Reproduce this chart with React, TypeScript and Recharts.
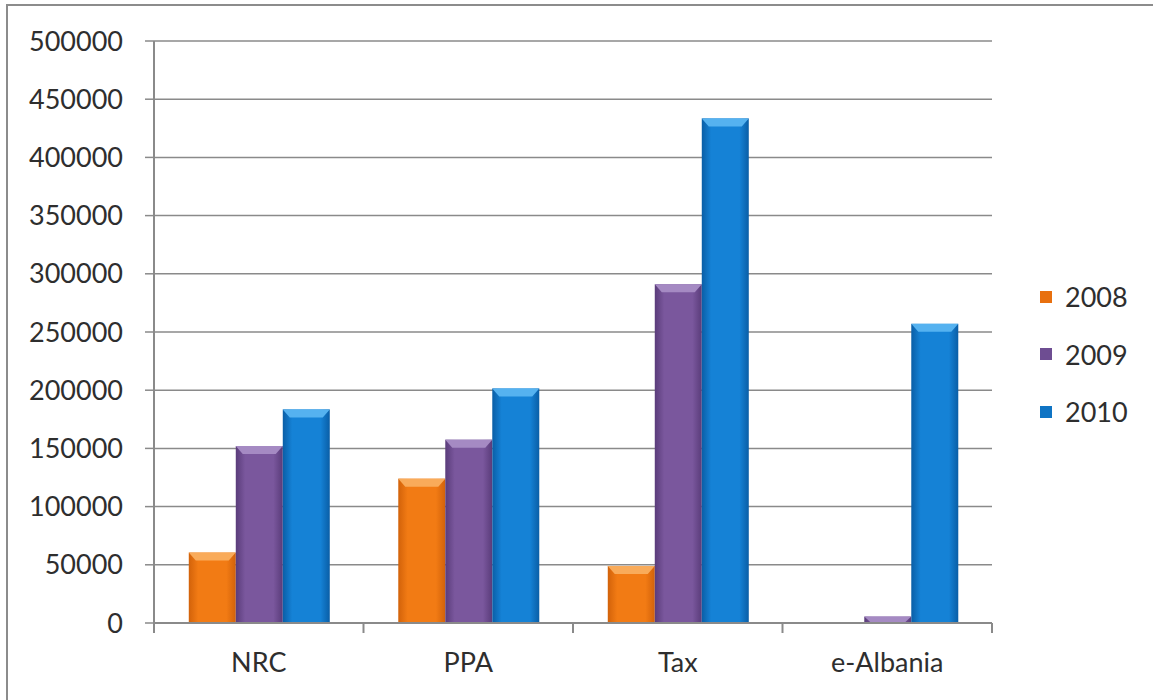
import { Bar, BarChart, CartesianGrid, Legend, XAxis, YAxis } from "recharts";

const categories = ["NRC", "PPA", "Tax", "e-Albania"];
const years = ["2008", "2009", "2010"];
const values2008 = [60500, 124000, 49000, 0];
const values2009 = [152000, 157500, 291000, 5500];
const values2010 = [183500, 201500, 433500, 257000];
const yTicks = [0, 50000, 100000, 150000, 200000, 250000, 300000, 350000, 400000, 450000, 500000];

const data = categories.map((name, i) => ({
  name,
  "2008": values2008[i],
  "2009": values2009[i],
  "2010": values2010[i]
}));

type Palette = { id: string; edge: string; mid: string; top: string; swatch: string };

const palettes: Record<string, Palette> = {
  "2008": { id: "g2008", edge: "#d2620a", mid: "#f27b14", top: "#f9ab5a", swatch: "#e8700f" },
  "2009": { id: "g2009", edge: "#5a3c7a", mid: "#7a579d", top: "#a58ac3", swatch: "#6e4d92" },
  "2010": { id: "g2010", edge: "#0a5ea6", mid: "#1582d6", top: "#55b2f0", swatch: "#0f74c4" }
};

const PLOT_LEFT = 154;
const PLOT_RIGHT = 992;
const LEGEND_W = 110;
const BAND = (PLOT_RIGHT - PLOT_LEFT) / categories.length;
const TEXT = "#2e2e2e";
const GRID = "#8a8a8a";
const FONT = "Lato, 'Open Sans', sans-serif";

// bar with a horizontal shading and a lighter bevel strip on top
function BevelBar(props: any) {
  const { x, y, width, height, palette } = props;
  if (!height || height <= 0) return null;
  const bevel = Math.min(8, height);
  const inset = Math.min(7, width / 4);
  return (
    <g>
      <rect x={x} y={y} width={width} height={height} fill={`url(#${palette.id})`} />
      <polygon
        points={`${x},${y} ${x + width},${y} ${x + width - inset},${y + bevel} ${x + inset},${y + bevel}`}
        fill={palette.top}
      />
    </g>
  );
}

// category label, with tick marks on the boundaries between categories
function CategoryTick(props: any) {
  const { x, y, payload, index } = props;
  const last = index === categories.length - 1;
  return (
    <g>
      <line x1={x - BAND / 2} x2={x - BAND / 2} y1={y - 8} y2={y + 2} stroke={GRID} strokeWidth={2} />
      {last && (
        <line x1={x + BAND / 2} x2={x + BAND / 2} y1={y - 8} y2={y + 2} stroke={GRID} strokeWidth={2} />
      )}
      <text x={x} y={y + 41} textAnchor="middle" fill={TEXT} fontSize={27} fontFamily={FONT}>
        {payload.value}
      </text>
    </g>
  );
}

function YearLegend() {
  return (
    <div style={{ fontFamily: FONT, fontSize: 27, color: TEXT }}>
      {years.map((year) => (
        <div key={year} style={{ display: "flex", alignItems: "center", height: 57.5 }}>
          <span
            style={{
              display: "inline-block",
              width: 12,
              height: 12,
              background: palettes[year].swatch,
              marginRight: 13
            }}
          />
          {year}
        </div>
      ))}
    </div>
  );
}

export default function App() {
  return (
    <div
      style={{
        position: "absolute",
        left: 0,
        top: 0,
        width: 1153,
        height: 700,
        background: "#ffffff",
        overflow: "hidden"
      }}
    >
      <div
        style={{
          position: "absolute",
          left: 6,
          top: 4,
          right: 0,
          bottom: 0,
          borderTop: "2px solid #8c8c8c",
          borderLeft: "2px solid #8c8c8c"
        }}
      />
      <div style={{ position: "absolute", left: 0, top: 0 }}>
        <BarChart
          width={1153}
          height={700}
          data={data}
          margin={{ top: 41, right: 1153 - PLOT_RIGHT - LEGEND_W, bottom: 17, left: 0 }}
          barCategoryGap="16.6%"
          barGap={0}
        >
          <defs>
            {years.map((year) => {
              const p = palettes[year];
              return (
                <linearGradient key={p.id} id={p.id} x1="0" y1="0" x2="1" y2="0">
                  <stop offset="0%" stopColor={p.edge} />
                  <stop offset="20%" stopColor={p.mid} />
                  <stop offset="80%" stopColor={p.mid} />
                  <stop offset="100%" stopColor={p.edge} />
                </linearGradient>
              );
            })}
          </defs>
          <CartesianGrid vertical={false} stroke={GRID} strokeWidth={1.5} />
          <XAxis
            dataKey="name"
            height={60}
            axisLine={{ stroke: GRID, strokeWidth: 2 }}
            tickLine={false}
            tick={<CategoryTick />}
            interval={0}
          />
          <YAxis
            width={PLOT_LEFT}
            domain={[0, 500000]}
            ticks={yTicks}
            interval={0}
            axisLine={{ stroke: GRID, strokeWidth: 2 }}
            tickLine={{ stroke: GRID, strokeWidth: 1.5 }}
            tickSize={9}
            tickMargin={22}
            tick={{ fill: TEXT, fontSize: 27, fontFamily: FONT }}
          />
          <Legend
            layout="vertical"
            verticalAlign="top"
            align="right"
            content={<YearLegend />}
            wrapperStyle={{ left: 1040, top: 268, width: LEGEND_W }}
          />
          {years.map((year) => (
            <Bar
              key={year}
              dataKey={year}
              name={year}
              fill={palettes[year].swatch}
              isAnimationActive={false}
              shape={(p: any) => <BevelBar {...p} palette={palettes[year]} />}
            />
          ))}
        </BarChart>
      </div>
    </div>
  );
}
